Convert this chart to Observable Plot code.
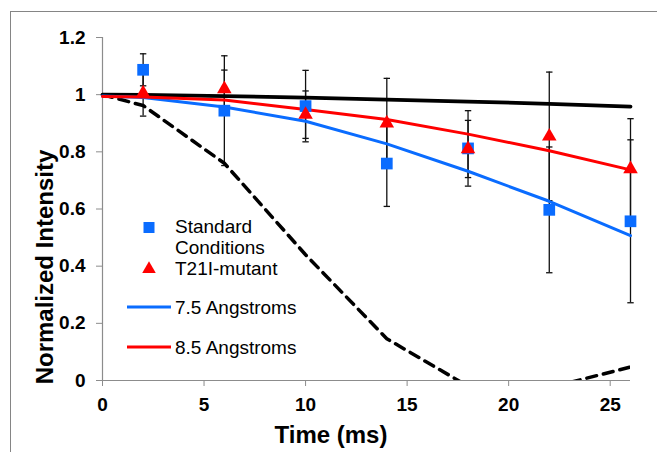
<!DOCTYPE html>
<html><head><meta charset="utf-8">
<script src="https://cdn.jsdelivr.net/npm/d3@7"></script>
<script src="https://cdn.jsdelivr.net/npm/@observablehq/plot@0.6"></script>
<style>
html,body{margin:0;padding:0;background:#fff;overflow:hidden;}
#wrap{position:relative;width:657px;height:452px;overflow:hidden;font-family:"Liberation Sans",Arial,sans-serif;}
#border{position:absolute;left:10px;top:11px;width:700px;height:500px;border:1.5px solid #858585;}
#chart{position:absolute;left:0;top:0;}
#overlay{position:absolute;left:0;top:0;pointer-events:none;}
</style>
</head><body>
<div id="wrap"><div id="border"></div><div id="chart"></div><svg id="overlay" width="657" height="452"></svg></div>
<script>
// ---- data ----
const times = [2, 6, 10, 14, 18, 22, 26];
const standard = [1.087, 0.944, 0.96, 0.759, 0.812, 0.597, 0.557];
const standardErr = [0.056, 0.192, 0.125, 0.15, 0.132, 0.22, 0.285];
const mutant = [1.005, 1.02, 0.93, 0.90, 0.81, 0.854, 0.74];
const mutantErr = [0.08, 0.066, 0.083, 0.157, 0.10, 0.225, 0.176];

const modelTimes = [0, 2, 6, 10, 14, 18, 22, 26];
const model75 = [0.995, 0.99, 0.957, 0.907, 0.828, 0.732, 0.627, 0.507];
const model85 = [0.994, 0.992, 0.981, 0.948, 0.913, 0.862, 0.804, 0.737];
const modelFlat = [1.0, 0.999, 0.995, 0.99, 0.983, 0.976, 0.968, 0.958];
const modelDashed = [1.0, 0.962, 0.76, 0.44, 0.146, -0.02, -0.025, 0.047];

const xTicks = [0, 5, 10, 15, 20, 25];
const yTicks = [0, 0.2, 0.4, 0.6, 0.8, 1, 1.2];

const seriesNames = ["Standard Conditions", "T21I-mutant"];
const legendLines = ["7.5 Angstroms", "8.5 Angstroms"];
const blue = "#0a6cff", red = "#ff0000";

// ---- tables ----
const pts = [];
times.forEach((t, i) => {
  pts.push({t, v: standard[i], e: standardErr[i], s: seriesNames[0]});
  pts.push({t, v: mutant[i], e: mutantErr[i], s: seriesNames[1]});
});
const caps = pts.flatMap(d => [{t: d.t, v: d.v - d.e}, {t: d.t, v: d.v + d.e}]);
const models = (arr) => modelTimes.map((t, i) => ({t, v: arr[i]}));

const capSymbol = {draw(ctx, size) { const w = Math.sqrt(size / Math.PI); ctx.moveTo(-w, 0); ctx.lineTo(w, 0); }};

const plot = Plot.plot({
  width: 657, height: 452,
  marginLeft: 102, marginRight: 27, marginTop: 37, marginBottom: 72,
  x: {domain: [0, 26]},
  y: {domain: [0, 1.2]},
  style: {fontFamily: "'Liberation Sans', Arial, sans-serif", fontSize: "19px", fontWeight: "bold", color: "black", background: "transparent", overflow: "visible"},
  marks: [
    Plot.axisX({ticks: xTicks, tickSize: 6, tickPadding: 11, stroke: "#8c8c8c", fill: "black", label: null, tickFormat: d => String(d)}),
    Plot.axisY({ticks: yTicks, tickSize: 6, tickPadding: 11, stroke: "#8c8c8c", fill: "black", label: null, tickFormat: d => String(d)}),
    Plot.ruleY([0], {stroke: "#8c8c8c", strokeWidth: 1.2}),
    Plot.ruleX([0], {stroke: "#8c8c8c", strokeWidth: 1.2}),
    Plot.ruleX(pts, {x: "t", y1: d => d.v - d.e, y2: d => d.v + d.e, stroke: "#111", strokeWidth: 1.3}),
    Plot.dot(caps, {x: "t", y: "v", symbol: capSymbol, r: 3.2, stroke: "#111", strokeWidth: 1.3, fill: "none"}),
    Plot.line(models(modelDashed), {x: "t", y: "v", stroke: "black", strokeWidth: 3.5, strokeDasharray: "10,7", clip: true}),
    Plot.line(models(modelFlat), {x: "t", y: "v", stroke: "black", strokeWidth: 3.8}),
    Plot.line(models(model75), {x: "t", y: "v", stroke: blue, strokeWidth: 3}),
    Plot.line(models(model85), {x: "t", y: "v", stroke: red, strokeWidth: 3}),
    Plot.dot(pts.filter(d => d.s === seriesNames[0]), {x: "t", y: "v", symbol: "square", r: 6.6, fill: blue, stroke: "none"}),
    Plot.dot(pts.filter(d => d.s === seriesNames[1]), {x: "t", y: "v", symbol: "triangle", r: 5.4, fill: red, stroke: "none"})
  ]
});
document.getElementById("chart").appendChild(plot);

// ---- titles and legend ----
const ov = d3.select("#overlay").style("font-family", "'Liberation Sans', Arial, sans-serif");
ov.append("text").attr("transform", "translate(53,267) rotate(-90)").attr("text-anchor", "middle")
  .attr("font-size", 24).attr("font-weight", "bold").text("Normalized Intensity");
ov.append("text").attr("x", 331).attr("y", 443).attr("text-anchor", "middle")
  .attr("font-size", 24).attr("font-weight", "bold").text("Time (ms)");

const lg = ov.append("g").attr("font-size", 19);
lg.append("rect").attr("x", 143.5).attr("y", 222).attr("width", 11).attr("height", 11).attr("fill", blue);
lg.append("text").attr("x", 175).attr("y", 233).text("Standard");
lg.append("text").attr("x", 175).attr("y", 254).text("Conditions");
lg.append("path").attr("d", d3.symbol(d3.symbolTriangle, 80)()).attr("transform", "translate(149,269)").attr("fill", red);
lg.append("text").attr("x", 175).attr("y", 274.5).text(seriesNames[1]);
[[legendLines[0], blue, 307], [legendLines[1], red, 347]].forEach(([label, c, y]) => {
  lg.append("line").attr("x1", 127).attr("x2", 171).attr("y1", y).attr("y2", y).attr("stroke", c).attr("stroke-width", 3);
  lg.append("text").attr("x", 175).attr("y", y + 7).text(label);
});
</script>
</body></html>
